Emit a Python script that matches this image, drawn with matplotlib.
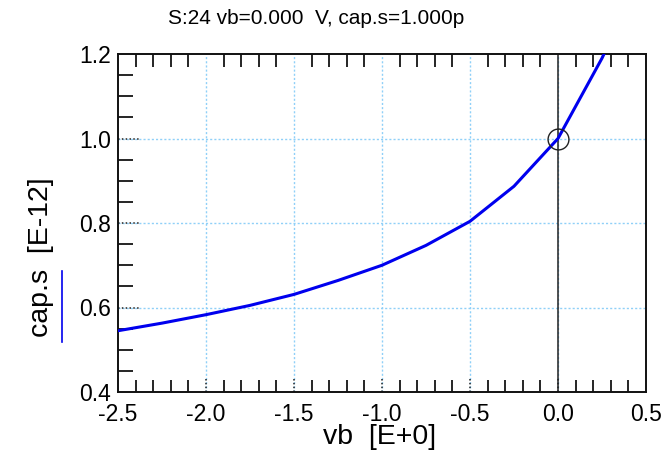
import matplotlib
matplotlib.use("Agg")
import matplotlib.pyplot as plt
from matplotlib.lines import Line2D
from matplotlib.ticker import MultipleLocator
import matplotlib.transforms as mtransforms

plt.rcParams['font.family'] = ['Liberation Sans', 'DejaVu Sans']

# 讀圖估計的數據 (vb, cap.s)
vb = [-2.5, -2.25, -2.0, -1.75, -1.5, -1.25, -1.0, -0.75, -0.5, -0.25, 0.0, 0.25, 0.5]
cap_s = [0.545, 0.563, 0.583, 0.605, 0.631, 0.664, 0.700, 0.747, 0.804, 0.887, 1.0, 1.19, 1.41]
x_major = [-2.5, -2.0, -1.5, -1.0, -0.5, 0.0, 0.5]
y_major = [0.4, 0.6, 0.8, 1.0, 1.2]
cursor_x = 0.0
cursor_y = 1.0

fig = plt.figure(figsize=(6.64, 4.67), dpi=100)
ax = fig.add_axes([118 / 664, 1 - 392 / 467, (646 - 118) / 664, (392 - 54) / 467])

ax.set_xlim(-2.5, 0.5)
ax.set_ylim(0.4, 1.2)

# 格線
for xv in x_major[1:-1]:
    ax.axvline(xv, color='#8fd0f8', linestyle=(0, (1.5, 1.5)), linewidth=1, zorder=1)
for yv in y_major[1:-1]:
    ax.axhline(yv, color='#8fd0f8', linestyle=(0, (1.5, 1.5)), linewidth=1, zorder=1)

# 曲線與游標
ax.plot(vb, cap_s, color='#0000ee', linewidth=2.2, zorder=3, clip_on=True)
ax.axvline(cursor_x, color='#222222', linewidth=1.1, zorder=2)
ax.plot([cursor_x], [cursor_y], marker='o', markersize=15, markerfacecolor='none',
        markeredgecolor='#222222', markeredgewidth=1, zorder=4)

# 刻度
ax.set_xticks(x_major)
ax.set_yticks(y_major)
ax.set_xticklabels([f"{v:.1f}" for v in x_major])
ax.set_yticklabels([f"{v:.1f}" for v in y_major])
ax.xaxis.set_minor_locator(MultipleLocator(0.1))
ax.yaxis.set_minor_locator(MultipleLocator(0.05))
ax.tick_params(which='major', length=0, labelsize=16.5)
ax.tick_params(axis='x', which='major', pad=8, top=True)
ax.tick_params(axis='y', which='major', pad=5)
ax.tick_params(axis='x', which='minor', direction='in', length=9, width=1.2,
               top=True, bottom=True)
ax.tick_params(axis='y', which='minor', direction='in', length=11, width=1.2,
               left=True, right=False)

# 主刻度畫成黑色點線
xt = mtransforms.blended_transform_factory(ax.transData, ax.transAxes)
yt = mtransforms.blended_transform_factory(ax.transAxes, ax.transData)
for xv in x_major[1:-1]:
    ax.plot([xv, xv], [0, 0.045], transform=xt, color='#222222', linestyle=(0, (1, 1.5)),
            linewidth=1.1, zorder=2, clip_on=False)
for yv in y_major[1:-1]:
    ax.plot([0, 0.04], [yv, yv], transform=yt, color='#222222', linestyle=(0, (1, 1.5)),
            linewidth=1.1, zorder=2, clip_on=False)

for s in ax.spines.values():
    s.set_linewidth(1.4)
    s.set_color('#111111')

fig.text(380 / 664, 1 - 437 / 467, "vb  [E+0]", fontsize=20.5, ha='center', va='center')

fig.text(41 / 664, 1 - 257 / 467, "cap.s  [E-12]", rotation=90, fontsize=20.5,
         ha='center', va='center')
fig.add_artist(Line2D([62 / 664, 62 / 664], [1 - 342 / 467, 1 - 271 / 467],
                      color='#0000ee', linewidth=1.2))

fig.text(316 / 664, 1 - 18 / 467, "S:24 vb=0.000  V, cap.s=1.000p", fontsize=15,
         ha='center', va='center')

fig.savefig("out.png", dpi=100)
